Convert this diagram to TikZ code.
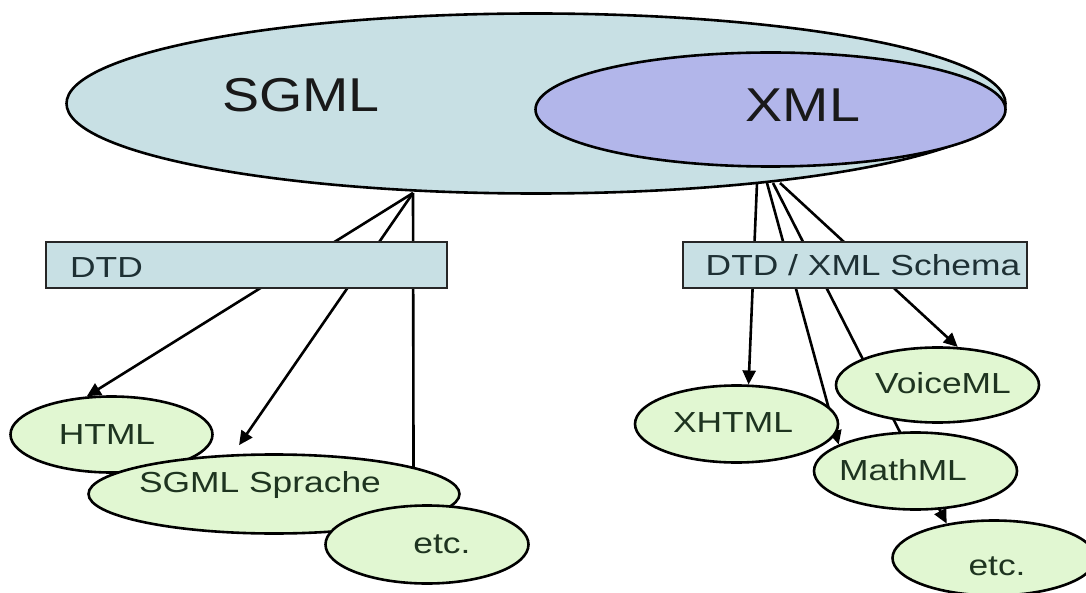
\documentclass[tikz,border=0pt]{standalone}
\usepackage{fontspec}
\setmainfont{Liberation Sans}
\newfontfamily\bigfont[FakeStretch=1.17]{Liberation Sans}
\newfontfamily\smallfont[FakeStretch=1.22]{Liberation Sans}
\usetikzlibrary{shapes.geometric,arrows.meta}
\definecolor{sgmlfill}{RGB}{200,224,228}
\definecolor{xmlfill}{RGB}{178,182,234}
\definecolor{langfill}{RGB}{225,247,210}
\definecolor{langtext}{RGB}{30,52,32}
\definecolor{boxtext}{RGB}{30,48,52}
\pgfdeclarelayer{bg}
\pgfdeclarelayer{edges}
\pgfsetlayers{bg,edges,main}
\begin{document}
\begin{tikzpicture}[x=1pt,y=-1pt,
  outline/.style={draw=black,line width=2.6pt},
  bigell/.style={ellipse,outline,inner sep=0pt},
  lang/.style={ellipse,outline,fill=langfill,inner sep=0pt,minimum width=203pt,minimum height=77pt},
  schemabox/.style={rectangle,draw=black!85,line width=2pt,fill=sgmlfill,inner sep=0pt,minimum height=46pt},
  conn/.style={draw=black,line width=2.6pt},
  arr/.style={conn,-{Triangle[length=14pt,width=13pt]}},
  biglbl/.style={font=\bigfont\fontsize{47.5}{50}\selectfont,text=black!90,inner sep=0pt,anchor=base},
  lbl/.style={font=\smallfont\fontsize{29}{31}\selectfont,text=langtext,inner sep=0pt,anchor=base},
]
\useasboundingbox (0,0) rectangle (1086,593);

\begin{pgfonlayer}{bg}
\node[bigell,fill=sgmlfill,minimum width=939pt,minimum height=180pt] (SGML) at (536,103.5) {};
\node[bigell,fill=xmlfill,minimum width=470pt,minimum height=114pt] (XML) at (770.5,109.5) {};
\node[biglbl] (tSGML) at (301,112) {SGML};
\node[biglbl] (tXML) at (803,122) {XML};
\end{pgfonlayer}

\coordinate (apexL) at (413,193);
\coordinate (r1) at (757,183);
\coordinate (r2) at (767,183);
\coordinate (r3) at (773,183);
\coordinate (r4) at (780,183);

% boxes
\node[schemabox,minimum width=401pt] (DTD) at (246,265) {};
\node[lbl,anchor=base west,text=boxtext] (tDTD) at (70,278) {DTD};
\node[schemabox,minimum width=344pt] (DTDX) at (854.5,265) {};
\node[lbl,text=boxtext] (tDTDX) at (863,276) {DTD / XML Schema};

% left languages
\node[lang,minimum width=202pt,minimum height=76pt] (HTML) at (111.5,434.5) {};
\node[lbl] (tHTML) at (107,444) {HTML};
\node[lang,minimum width=371pt,minimum height=79pt] (SPR) at (274,494) {};
\node[lbl] (tSPR) at (260,492) {SGML Sprache};
\node[lang,minimum height=78pt] (ETCL) at (427,544.5) {};
\node[lbl] (tETCL) at (442,553) {etc.};

% right languages
\node[lang] (XHTML) at (736.5,424) {};
\node[lbl] (tXHTML) at (733,432) {XHTML};
\node[lang,minimum height=75pt] (VOICE) at (937.5,385) {};
\node[lbl] (tVOICE) at (943,393) {VoiceML};
\node[lang] (MATH) at (915.5,471) {};
\node[lbl] (tMATH) at (903,480) {MathML};
\node[lang,minimum height=75pt] (ETCR) at (994,558) {};
\node[lbl] (tETCR) at (997,575) {etc.};

\begin{pgfonlayer}{edges}
\draw[arr] (apexL) -- (HTML.123.5);
\draw[arr,shorten >=11pt] (apexL) -- (SPR.136.6);
\draw[conn] (apexL) -- (SPR.11.6);
\draw[arr] (r1) -- (XHTML.73.6);
\draw[arr] (r2) -- (MATH.161.5);
\draw[arr] (r3) -- (ETCR.144.8);
\draw[arr] (r4) -- (VOICE.62.2);
\end{pgfonlayer}
\end{tikzpicture}
\end{document}
